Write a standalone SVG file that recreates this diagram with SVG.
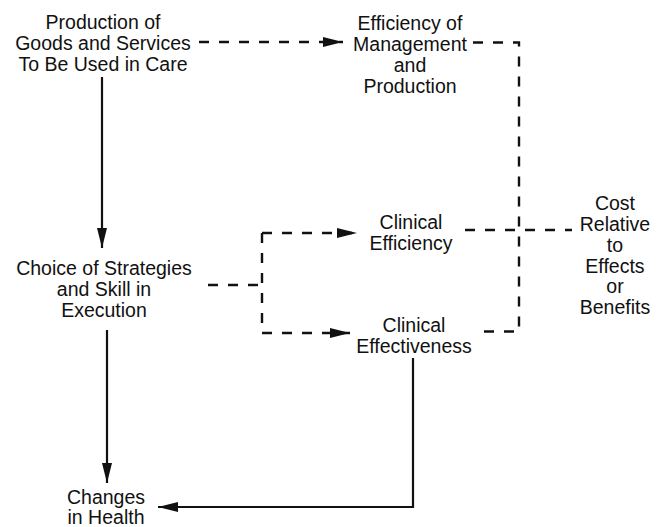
<svg xmlns="http://www.w3.org/2000/svg" width="667" height="527" viewBox="0 0 667 527">
  <style>
    text { font-family: "Liberation Sans", Arial, Helvetica, sans-serif; font-size: 19.5px; fill: #111; text-anchor: middle; }
    .solid { fill: none; stroke: #111; stroke-width: 2.2; }
    .dash { fill: none; stroke: #111; stroke-width: 2.4; stroke-dasharray: 10 10; }
  </style>
  <defs>
    <marker id="arrow" markerUnits="userSpaceOnUse" markerWidth="21" markerHeight="11" refX="20" refY="5" orient="auto">
      <path d="M0,0 L20,5 L0,10 z" fill="#111"/>
    </marker>
  </defs>

  <g id="production">
    <text x="103" y="29">Production of</text>
    <text x="103" y="50">Goods and Services</text>
    <text x="103" y="71">To Be Used in Care</text>
  </g>

  <g id="efficiency-management">
    <text x="410" y="30">Efficiency of</text>
    <text x="410" y="51">Management</text>
    <text x="410" y="72">and</text>
    <text x="410" y="93">Production</text>
  </g>

  <g id="choice">
    <text x="104" y="275">Choice of Strategies</text>
    <text x="104" y="296">and Skill in</text>
    <text x="104" y="317">Execution</text>
  </g>

  <g id="clinical-efficiency">
    <text x="411" y="229">Clinical</text>
    <text x="411" y="250">Efficiency</text>
  </g>

  <g id="clinical-effectiveness">
    <text x="414" y="332">Clinical</text>
    <text x="414" y="353">Effectiveness</text>
  </g>

  <g id="cost">
    <text x="615" y="210">Cost</text>
    <text x="615" y="230.5">Relative</text>
    <text x="615" y="251.5">to</text>
    <text x="615" y="272.5">Effects</text>
    <text x="615" y="293">or</text>
    <text x="615" y="314">Benefits</text>
  </g>

  <g id="changes">
    <text x="106" y="503.5">Changes</text>
    <text x="106" y="524">in Health</text>
  </g>

  <g id="connectors">
    <!-- solid causal links -->
    <path class="solid" d="M102,77 V248" marker-end="url(#arrow)"/>
    <path class="solid" d="M107,330 V483" marker-end="url(#arrow)"/>
    <path class="solid" d="M413,358 V507 H158" marker-end="url(#arrow)"/>

    <!-- production to management efficiency -->
    <path class="dash" d="M199,42 H343" marker-end="url(#arrow)"/>

    <!-- management efficiency down to clinical effectiveness -->
    <path class="dash" d="M473,42.5 H519 V331.5 H483"/>

    <!-- clinical efficiency across to cost -->
    <path class="dash" d="M465,230 H572"/>

    <!-- strategy branch -->
    <path class="dash" d="M208,285 H262"/>
    <path class="dash" d="M262,233 V333"/>
    <path class="dash" d="M262,233 H357" marker-end="url(#arrow)"/>
    <path class="dash" d="M262,333 H350" marker-end="url(#arrow)"/>
  </g>
</svg>
